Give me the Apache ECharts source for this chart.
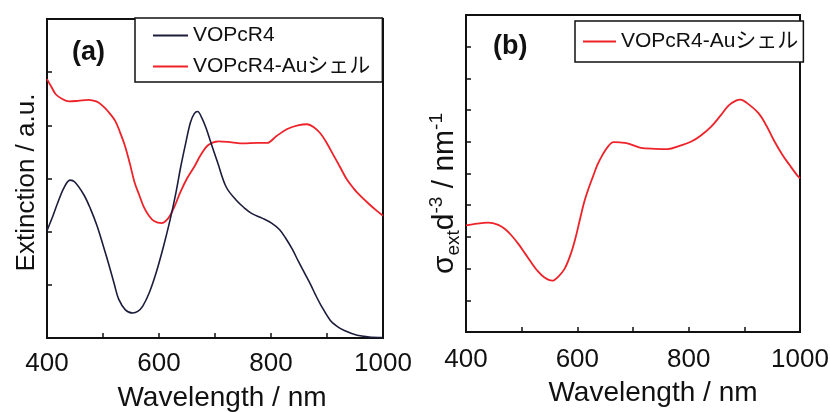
<!DOCTYPE html>
<html>
<head>
<meta charset="utf-8">
<script src="https://cdn.jsdelivr.net/npm/echarts@6/dist/echarts.min.js"></script>
<style>
html,body{margin:0;padding:0;background:#fff;}
#chart{width:830px;height:412px;}
</style>
</head>
<body>
<div id="chart"></div>
<script>
// ---- data ----
const nameBlack = 'VOPcR4';
const nameRed = 'VOPcR4-Auシェル';
const xTickLabels = [400, 600, 800, 1000];

// panel (a): VOPcR4
const wlBlack = [400,410,418,430,441,450,466,478,489,500,511,520,528,540,553,562,571,583,595,608,620,630,639,648,656,663,669,676,684,691,705,720,738,752,766,785,801,815,826,838,849,860,871,880,889,906,918,931,954,975,1000];
const extBlack = [2.02,2.28,2.51,2.82,2.97,2.93,2.69,2.42,2.12,1.75,1.36,1.02,0.73,0.53,0.47,0.50,0.60,0.86,1.23,1.72,2.23,2.72,3.23,3.68,4.05,4.22,4.26,4.15,3.95,3.73,3.29,2.84,2.59,2.45,2.34,2.25,2.16,2.04,1.88,1.67,1.44,1.22,1.00,0.80,0.62,0.33,0.22,0.14,0.05,0.02,0.01];

// panel (a): VOPcR4-Au shell
const wlRedA = [400,408,416,428,439,455,474,488,498,510,522,530,539,548,556,565,573,582,591,605,612,619,628,638,650,663,675,688,706,730,750,775,793,810,829,848,865,877,888,900,911,923,935,947,958,975,988,1000];
const extRedA = [4.87,4.72,4.58,4.49,4.45,4.46,4.48,4.45,4.38,4.25,4.08,3.88,3.62,3.28,2.94,2.68,2.46,2.30,2.20,2.16,2.20,2.29,2.48,2.74,3.00,3.22,3.45,3.63,3.70,3.68,3.66,3.67,3.67,3.80,3.93,4.00,4.02,3.96,3.85,3.66,3.45,3.22,2.99,2.82,2.69,2.52,2.40,2.30];

// panel (b): sigma_ext d^-3
const wlRedB = [400,420,440,458,470,481,494,506,517,528,541,555,566,577,587,596,604,612,620,628,636,645,655,665,677,690,714,740,762,785,804,822,840,856,872,885,893,905,925,940,953,968,982,995,1000];
const sigmaRedB = [3.36,3.42,3.45,3.38,3.25,3.06,2.78,2.48,2.20,1.94,1.72,1.62,1.75,1.99,2.40,2.92,3.50,4.08,4.52,4.90,5.27,5.58,5.85,5.99,5.98,5.95,5.81,5.78,5.77,5.88,6.00,6.20,6.47,6.80,7.15,7.30,7.33,7.22,6.91,6.50,6.05,5.60,5.25,4.94,4.85];

// ---- chart ----
const FONT = "'Liberation Sans', Arial, 'Noto Sans CJK JP', sans-serif";
const INK = '#111';
const BLACK_COL = '#1c1c3c';
const RED_COL = '#ee2229';

function zip(xs, ys){ return xs.map((x,i)=>[x, ys[i]]); }

function xAxisCfg(gi, pad, margin, gap){
  return {
    type:'value', gridIndex:gi, min:400, max:1000, interval:100,
    axisLine:{show:true, onZero:false, lineStyle:{color:INK, width:2}},
    axisTick:{show:true, inside:true, length:5, lineStyle:{color:INK, width:1.5}},
    splitLine:{show:false},
    axisLabel:{formatter:v=> xTickLabels.includes(v) ? String(v) : '', fontSize:26, color:INK, margin:margin, fontFamily:FONT, hideOverlap:false},
    name:'Wavelength / nm', nameLocation:'middle', nameGap:gap,
    nameTextStyle:{fontSize:28, color:INK, fontFamily:FONT, padding:pad}
  };
}

const chart = echarts.init(document.getElementById('chart'), null, {renderer:'canvas'});
chart.setOption({
  backgroundColor:'#fff',
  animation:false,
  title:[
    {text:'(a)', left:72, top:39, padding:0, textStyle:{fontSize:27, fontWeight:'bold', color:INK, fontFamily:FONT}},
    {text:'(b)', left:493, top:33, padding:0, textStyle:{fontSize:27, fontWeight:'bold', color:INK, fontFamily:FONT}}
  ],
  legend:[
    {data:[nameBlack, nameRed], orient:'vertical', left:135, top:18, icon:'rect', itemWidth:35, itemHeight:2, itemGap:10,
     padding:[7,12,5,18], borderColor:INK, borderWidth:1.5, backgroundColor:'#fff',
     textStyle:{fontSize:21, color:INK, fontFamily:FONT}},
    {data:[nameRed], orient:'vertical', left:575, top:21, icon:'rect', itemWidth:33, itemHeight:2, itemGap:9,
     padding:[10,5,10,8], borderColor:INK, borderWidth:1.5, backgroundColor:'#fff',
     textStyle:{fontSize:21, color:INK, fontFamily:FONT}}
  ],
  grid:[
    {left:47, top:19, width:336, height:319, show:true, borderColor:INK, borderWidth:2, backgroundColor:'transparent', containLabel:false, outerBoundsMode:'none'},
    {left:466, top:15, width:334, height:317, show:true, borderColor:INK, borderWidth:2, backgroundColor:'transparent', containLabel:false, outerBoundsMode:'none'}
  ],
  xAxis:[ xAxisCfg(0,[0,0,0,14],13,46), xAxisCfg(1,[0,0,0,40],15,47) ],
  yAxis:[
    {type:'value', gridIndex:0, min:0, max:6, interval:1,
     axisLine:{show:true, lineStyle:{color:INK, width:2}},
     axisTick:{show:true, inside:true, length:5, lineStyle:{color:INK, width:1.5}},
     axisLabel:{show:false}, splitLine:{show:false},
     name:'Extinction / a.u.', nameLocation:'middle', nameRotate:90, nameGap:7,
     nameTextStyle:{fontSize:26, color:INK, fontFamily:FONT, padding:[0,8,0,0]}},
    {type:'value', gridIndex:1, min:0, max:10, interval:1,
     axisLine:{show:true, lineStyle:{color:INK, width:2}},
     axisTick:{show:true, inside:true, length:5, lineStyle:{color:INK, width:1.5}},
     axisLabel:{show:false}, splitLine:{show:false},
     name:'{m|σ}{sub|ext}{m|d}{sup|-3}{m| / nm}{sup|-1}', nameLocation:'middle', nameRotate:90, nameGap:3,
     nameTextStyle:{color:INK, fontFamily:FONT, padding:[0,40,0,0],
       rich:{
         m:{fontSize:30, lineHeight:36, color:INK, fontFamily:FONT},
         sub:{fontSize:19, verticalAlign:'bottom', color:INK, fontFamily:FONT},
         sup:{fontSize:19, verticalAlign:'top', color:INK, fontFamily:FONT}
       }}}
  ],
  series:[
    {name:nameBlack, type:'line', xAxisIndex:0, yAxisIndex:0, data:zip(wlBlack, extBlack),
     symbol:'none', showSymbol:false, smooth:0.35, itemStyle:{color:BLACK_COL}, lineStyle:{color:BLACK_COL, width:1.6}, z:3},
    {name:nameRed, type:'line', xAxisIndex:0, yAxisIndex:0, data:zip(wlRedA, extRedA),
     symbol:'none', showSymbol:false, smooth:0.35, itemStyle:{color:RED_COL}, lineStyle:{color:RED_COL, width:1.8}, z:2},
    {name:nameRed, type:'line', xAxisIndex:1, yAxisIndex:1, data:zip(wlRedB, sigmaRedB),
     symbol:'none', showSymbol:false, smooth:0.35, itemStyle:{color:RED_COL}, lineStyle:{color:RED_COL, width:1.8}, z:2}
  ]
});
</script>
</body>
</html>
